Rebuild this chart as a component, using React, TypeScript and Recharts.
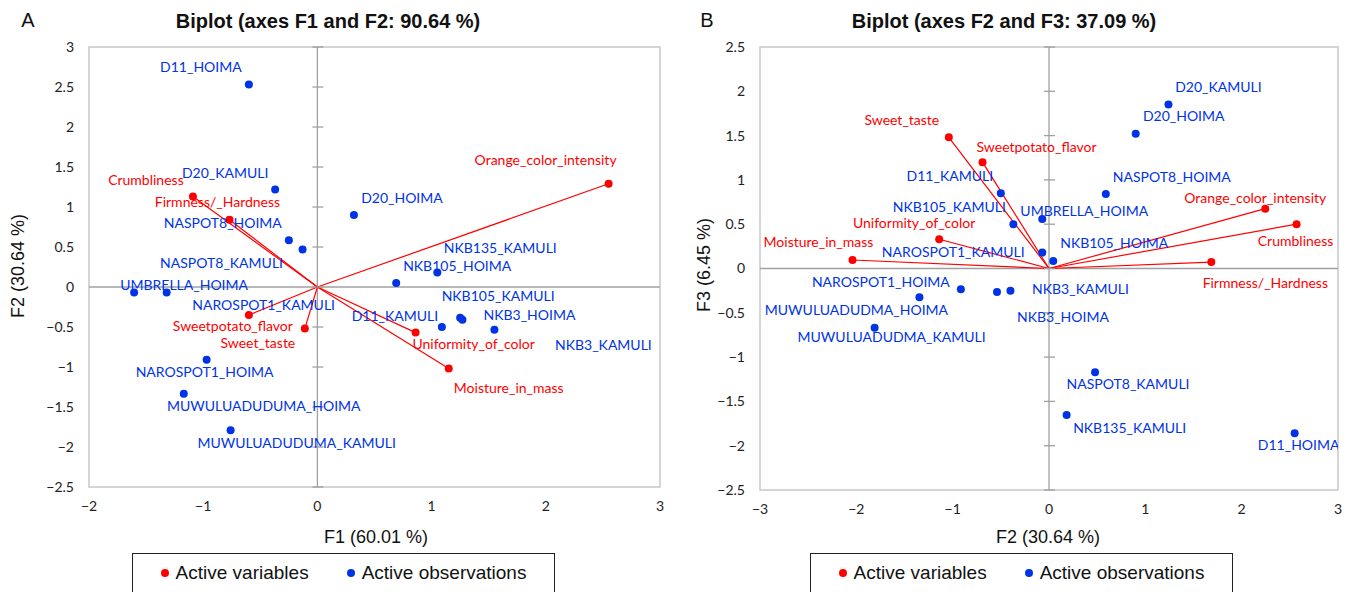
import React from 'react';
import { ScatterChart, Scatter, XAxis, YAxis, ReferenceLine, ReferenceArea, ReferenceDot, Legend } from 'recharts';

// ---- axes ----
const ticksAX = [-2, -1, 0, 1, 2, 3];
const ticksAY = [-2.5, -2, -1.5, -1, -0.5, 0, 0.5, 1, 1.5, 2, 2.5, 3];
const ticksBX = [-3, -2, -1, 0, 1, 2, 3];
const ticksBY = [-2.5, -2, -1.5, -1, -0.5, 0, 0.5, 1, 1.5, 2, 2.5];

const legendOrder = ['Active variables', 'Active observations'];

// ---- biplot A: F1 x F2 ----
const varNamesA = ['Orange_color_intensity', 'Crumbliness', 'Firmness/_Hardness', 'Sweetpotato_flavor', 'Sweet_taste', 'Uniformity_of_color', 'Moisture_in_mass'];
const varF1A = [2.55, -1.09, -0.77, -0.6, -0.11, 0.86, 1.15];
const varF2A = [1.29, 1.13, 0.84, -0.35, -0.52, -0.57, -1.02];

const obsNamesA = ['D11_HOIMA', 'D20_KAMULI', 'NASPOT8_HOIMA', 'NASPOT8_KAMULI', 'D20_HOIMA', 'NKB135_KAMULI', 'NKB105_HOIMA', 'UMBRELLA_HOIMA', 'NAROSPOT1_KAMULI', 'D11_KAMULI', 'NKB105_KAMULI', 'NKB3_HOIMA', 'NKB3_KAMULI', 'NAROSPOT1_HOIMA', 'MUWULUADUDUMA_HOIMA', 'MUWULUADUDUMA_KAMULI'];
const obsF1A = [-0.6, -0.37, -0.25, -0.13, 0.32, 1.05, 0.69, -1.605, -1.32, 1.09, 1.25, 1.27, 1.55, -0.97, -1.17, -0.76];
const obsF2A = [2.53, 1.22, 0.585, 0.47, 0.9, 0.18, 0.05, -0.07, -0.07, -0.5, -0.385, -0.41, -0.535, -0.91, -1.335, -1.79];

// ---- biplot B: F2 x F3 ----
const varNamesB = ['Sweet_taste', 'Sweetpotato_flavor', 'Uniformity_of_color', 'Moisture_in_mass', 'Orange_color_intensity', 'Crumbliness', 'Firmness/_Hardness'];
const varF2B = [-1.04, -0.69, -1.14, -2.04, 2.245, 2.57, 1.685];
const varF3B = [1.48, 1.2, 0.33, 0.096, 0.675, 0.5, 0.073];

const obsNamesB = ['D20_KAMULI', 'D20_HOIMA', 'NASPOT8_HOIMA', 'D11_KAMULI', 'NKB105_KAMULI', 'UMBRELLA_HOIMA', 'NAROSPOT1_KAMULI', 'NKB105_HOIMA', 'NAROSPOT1_HOIMA', 'MUWULUADUDMA_HOIMA', 'NKB3_KAMULI', 'NKB3_HOIMA', 'MUWULUADUDMA_KAMULI', 'NASPOT8_KAMULI', 'NKB135_KAMULI', 'D11_HOIMA'];
const obsF2B = [1.24, 0.9, 0.59, -0.5, -0.37, -0.07, -0.07, 0.044, -0.915, -1.345, -0.4, -0.54, -1.81, 0.478, 0.183, 2.55];
const obsF3B = [1.85, 1.52, 0.84, 0.85, 0.5, 0.56, 0.18, 0.085, -0.235, -0.325, -0.25, -0.265, -0.669, -1.17, -1.654, -1.86];

// label placement (pixel offset of label centre from its point)
const labelPosA: Record<string, [number, number]> = {
  D11_HOIMA: [-48, -18], D20_KAMULI: [-50, -17], NASPOT8_HOIMA: [-66, -18], NASPOT8_KAMULI: [-81, 13],
  D20_HOIMA: [48, -18], NKB135_KAMULI: [63, -25], NKB105_HOIMA: [61, -18], UMBRELLA_HOIMA: [50, -8],
  NAROSPOT1_KAMULI: [97, 12], D11_KAMULI: [-47, -12], NKB105_KAMULI: [38, -22], NKB3_HOIMA: [67, -5],
  NKB3_KAMULI: [109, 15], NAROSPOT1_HOIMA: [-2, 12], MUWULUADUDUMA_HOIMA: [80, 12], MUWULUADUDUMA_KAMULI: [66, 12],
  Orange_color_intensity: [-63, -24], Crumbliness: [-47, -17], 'Firmness/_Hardness': [-12, -18],
  Sweetpotato_flavor: [-16, 10], Sweet_taste: [-47, 14], Uniformity_of_color: [58, 11], Moisture_in_mass: [60, 19],
};
const labelPosB: Record<string, [number, number]> = {
  D20_KAMULI: [50, -18], D20_HOIMA: [48, -18], NASPOT8_HOIMA: [66, -18], D11_KAMULI: [-51, -18],
  NKB105_KAMULI: [-64, -18], UMBRELLA_HOIMA: [42, -8], NAROSPOT1_KAMULI: [-89, -1], NKB105_HOIMA: [61, -18],
  NAROSPOT1_HOIMA: [-80, -8], MUWULUADUDMA_HOIMA: [-63, 12], NKB3_KAMULI: [70, -2], NKB3_HOIMA: [66, 25],
  MUWULUADUDMA_KAMULI: [17, 9], NASPOT8_KAMULI: [33, 11], NKB135_KAMULI: [63, 12], D11_HOIMA: [4, 11],
  Sweet_taste: [-47, -18], Sweetpotato_flavor: [54, -16], Uniformity_of_color: [-25, -17], Moisture_in_mass: [-34, -18],
  Orange_color_intensity: [-10, -11], Crumbliness: [-1, 16], 'Firmness/_Hardness': [54, 20],
};

const RED = '#ff0000';
const BLUE = '#0033e6';
const LABEL_FONT = 'Lato, "Open Sans", sans-serif';
const NARROW_FONT = '"Liberation Sans Narrow", "Arial Narrow", "Liberation Sans", sans-serif';

const zip = (names: string[], xs: number[], ys: number[]) => names.map((name, i) => ({ name, x: xs[i], y: ys[i] }));
const fmt = (v: number) => String(v).replace('-', '\u2212');

function pointShape(color: string, pos: Record<string, [number, number]>) {
  return (props: any) => {
    const { cx, cy, payload } = props;
    const [dx, dy] = pos[payload.name] || [0, -14];
    return (
      <g>
        <circle cx={cx} cy={cy} r={4} fill={color} />
        <text x={cx + dx} y={cy + dy} textAnchor="middle" dominantBaseline="central" fill={color}
          style={{ fontFamily: LABEL_FONT, fontSize: 14 }}>{payload.name}</text>
      </g>
    );
  };
}

const legendContent = (props: any) => {
  const items = (props.payload || [])
    .filter((p: any) => legendOrder.includes(p.value))
    .sort((a: any, b: any) => legendOrder.indexOf(a.value) - legendOrder.indexOf(b.value));
  return (
    <div style={{ border: '1px solid #222', width: 423, height: 44, display: 'flex', justifyContent: 'center', alignItems: 'center', boxSizing: 'border-box', paddingBottom: 4 }}>
      {items.map((p: any, i: number) => (
        <span key={i} style={{ display: 'flex', alignItems: 'center', marginLeft: i ? 38 : 0, fontFamily: NARROW_FONT, fontSize: 19, color: '#111' }}>
          <svg width={8} height={8} style={{ marginRight: 7 }}><circle cx={4} cy={4} r={4} fill={p.color} /></svg>
          {p.value}
        </span>
      ))}
    </div>
  );
};

interface BiplotProps {
  width: number;
  margin: { top: number; right: number; bottom: number; left: number };
  xDomain: [number, number];
  yDomain: [number, number];
  xTicks: number[];
  yTicks: number[];
  vars: { name: string; x: number; y: number }[];
  obs: { name: string; x: number; y: number }[];
  labelPos: Record<string, [number, number]>;
  legendLeft: number;
}

function Biplot({ width, margin, xDomain, yDomain, xTicks, yTicks, vars, obs, labelPos, legendLeft }: BiplotProps) {
  const tickStyle = { fontFamily: LABEL_FONT, fontSize: 14, fill: '#222' };
  return (
    <ScatterChart width={width} height={592} margin={margin}>
      <XAxis type="number" dataKey="x" domain={xDomain} ticks={xTicks} tickFormatter={fmt} axisLine={false} tickLine={false}
        tickSize={0} tickMargin={14} height={30} tick={tickStyle} interval={0} allowDataOverflow />
      <YAxis type="number" dataKey="y" domain={yDomain} ticks={yTicks} tickFormatter={fmt} axisLine={false} tickLine={false}
        tickSize={0} tickMargin={15} width={40} tick={tickStyle} interval={0} allowDataOverflow />
      <ReferenceArea x1={xDomain[0]} x2={xDomain[1]} y1={yDomain[0]} y2={yDomain[1]} fill="none" stroke="#c8c8c8" strokeWidth={1.5} />
      <ReferenceLine x={0} stroke="#a0a0a0" strokeWidth={1.3} />
      <ReferenceLine y={0} stroke="#a0a0a0" strokeWidth={1.3} />
      {yTicks.map((t) => (
        <ReferenceDot key={'t' + t} x={0} y={t} r={0}
          shape={(p: any) => <line x1={p.cx - 5} x2={p.cx + 6} y1={p.cy} y2={p.cy} stroke="#a0a0a0" strokeWidth={1.3} />} />
      ))}
      {vars.map((v) => (
        <ReferenceLine key={'v' + v.name} segment={[{ x: 0, y: 0 }, { x: v.x, y: v.y }]} stroke={RED} strokeWidth={1.2} />
      ))}
      <Scatter name="Active variables" data={vars} fill={RED} shape={pointShape(RED, labelPos)} isAnimationActive={false} />
      <Scatter name="Active observations" data={obs} fill={BLUE} shape={pointShape(BLUE, labelPos)} isAnimationActive={false} />
      <Legend verticalAlign="middle" content={legendContent} wrapperStyle={{ left: legendLeft, top: 553, width: 423, bottom: 'auto' }} />
    </ScatterChart>
  );
}

const abs = (left: number, top: number): React.CSSProperties => ({ position: 'absolute', left, top });
const titleStyle: React.CSSProperties = { fontFamily: NARROW_FONT, fontWeight: 'bold', fontSize: 20, color: '#111', whiteSpace: 'nowrap', transform: 'translate(-50%, -50%)' };
const axisTitleStyle: React.CSSProperties = { fontFamily: NARROW_FONT, fontSize: 18, color: '#111', whiteSpace: 'nowrap', transform: 'translate(-50%, -50%)' };
const panelStyle: React.CSSProperties = { fontFamily: NARROW_FONT, fontSize: 20, color: '#111', transform: 'translate(-50%, -50%)' };

export default function App() {
  return (
    <div style={{ position: 'absolute', left: 0, top: 0, width: 1354, height: 592, background: '#fff', overflow: 'hidden' }}>
      <div style={abs(0, 0)}>
        <Biplot width={680} margin={{ top: 47, right: 20, bottom: 75, left: 49 }} xDomain={[-2, 3]} yDomain={[-2.5, 3]}
          xTicks={ticksAX} yTicks={ticksAY} vars={zip(varNamesA, varF1A, varF2A)} obs={zip(obsNamesA, obsF1A, obsF2A)}
          labelPos={labelPosA} legendLeft={132} />
      </div>
      <div style={abs(680, 0)}>
        <Biplot width={674} margin={{ top: 47, right: 16, bottom: 72, left: 40 }} xDomain={[-3, 3]} yDomain={[-2.5, 2.5]}
          xTicks={ticksBX} yTicks={ticksBY} vars={zip(varNamesB, varF2B, varF3B)} obs={zip(obsNamesB, obsF2B, obsF3B)}
          labelPos={labelPosB} legendLeft={130} />
      </div>
      <div style={{ ...abs(28, 20), ...panelStyle }}>A</div>
      <div style={{ ...abs(707, 20), ...panelStyle }}>B</div>
      <div style={{ ...abs(328, 21), ...titleStyle }}>Biplot (axes F1 and F2: 90.64 %)</div>
      <div style={{ ...abs(1004, 21), ...titleStyle }}>Biplot (axes F2 and F3: 37.09 %)</div>
      <div style={{ ...abs(376, 537), ...axisTitleStyle }}>F1 (60.01 %)</div>
      <div style={{ ...abs(1048, 537), ...axisTitleStyle }}>F2 (30.64 %)</div>
      <div style={{ ...abs(18, 266), ...axisTitleStyle, transform: 'translate(-50%, -50%) rotate(-90deg)' }}>F2 (30.64 %)</div>
      <div style={{ ...abs(704, 265), ...axisTitleStyle, transform: 'translate(-50%, -50%) rotate(-90deg)' }}>F3 (6.45 %)</div>
    </div>
  );
}
